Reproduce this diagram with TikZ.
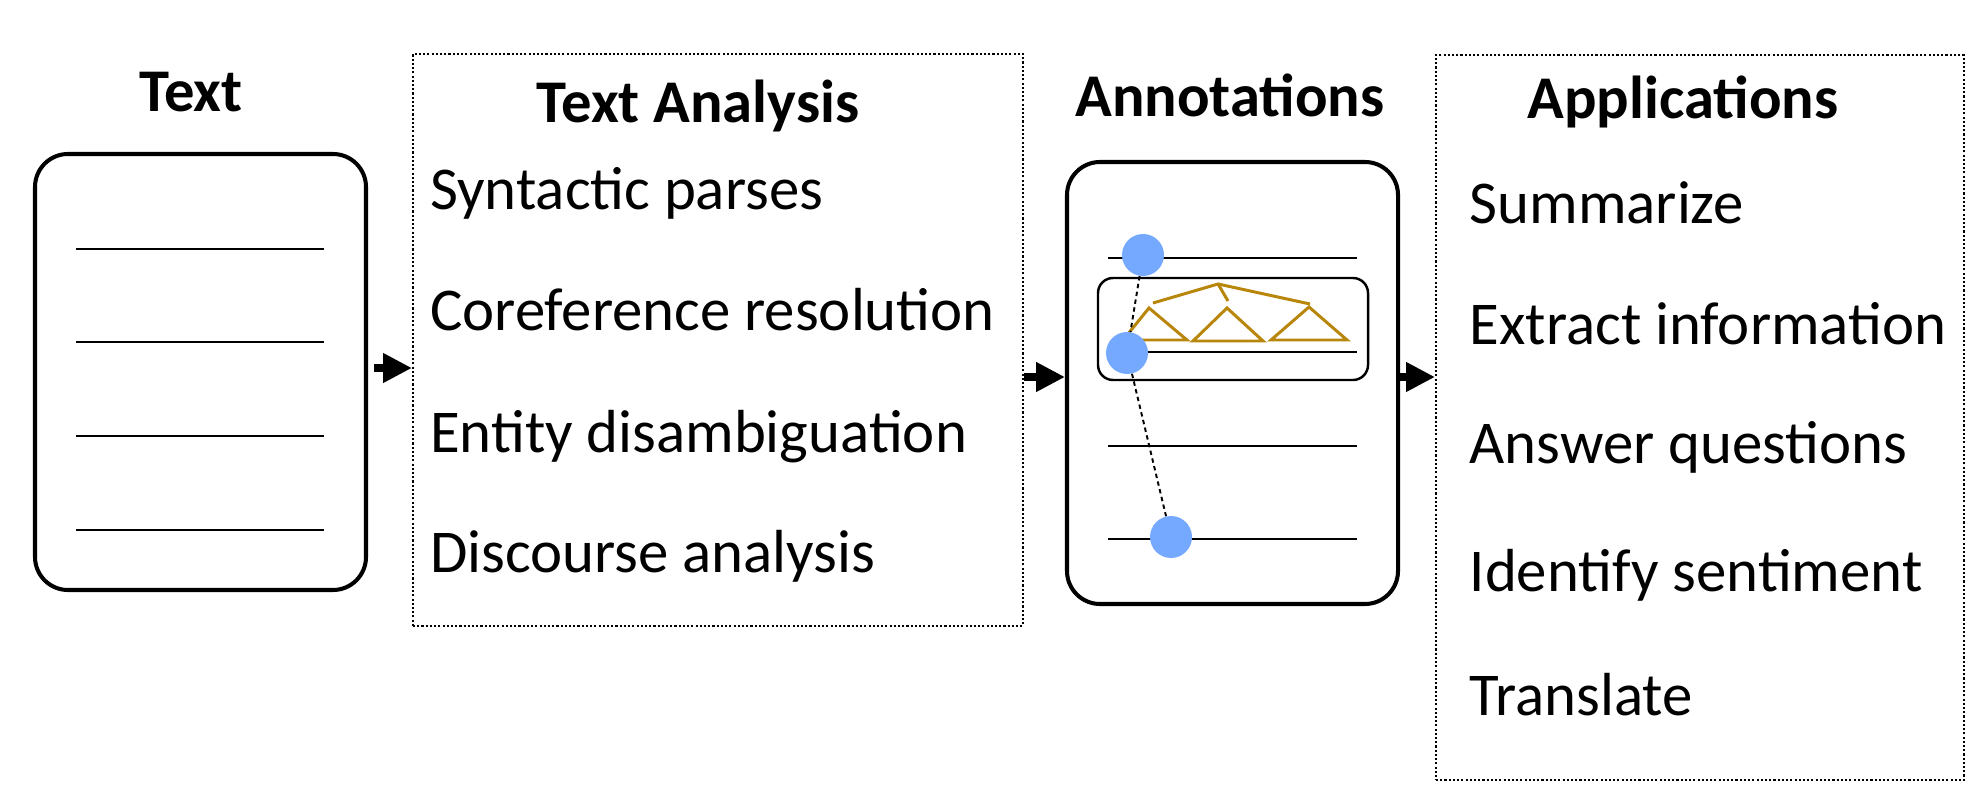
\documentclass[tikz,border=0pt]{standalone}
\usepackage{fontspec}
\setmainfont{Carlito}
\usetikzlibrary{arrows.meta,positioning}

\definecolor{mentionblue}{RGB}{117,168,255}
\definecolor{treegold}{RGB}{184,134,11}

\tikzset{
	panel/.style={draw,line width=2.3pt,rounded corners=0.66cm,minimum width=6.62cm},
	listbox/.style={draw,line width=1.2pt,dash pattern=on 1.2pt off 1.2pt},
	title/.style={anchor=base,font=\fontsize{34.5}{40}\selectfont\bfseries},
	item/.style={anchor=base west,font=\fontsize{34.6}{40}\selectfont},
	bigarrow/.style={line width=4pt,-{Triangle[length=16.4pt,width=15.9pt]}},
	rule/.style={line width=1.1pt},
	mention/.style={circle,fill=mentionblue,minimum size=0.84cm,inner sep=0pt},
	coref/.style={line width=1.1pt,dash pattern=on 2.5pt off 2pt},
	tree/.style={draw=treegold,line width=1.7pt,line join=miter}
}

\begin{document}
\begin{tikzpicture}
	\useasboundingbox (0,0) rectangle (39.44,15.84);

	% input text
	\node[panel,minimum height=8.72cm] (txt) at (4.01,8.40) {};
	\node[title] (txttitle) at (3.82,13.60) {Text};
	\foreach \y in {10.86,9.00,7.12,5.24}
	{
		\draw[rule] (1.52,\y) -- (6.48,\y);
	}

	% text analysis
	\node[listbox,minimum width=12.2cm,minimum height=11.44cm] (ana) at (14.36,9.04) {};
	\node[title] (anatitle) at (13.96,13.38) {Text Analysis};
	\foreach[count=\i] \y/\t in {11.64/Syntactic parses,9.22/Coreference resolution,6.80/Entity disambiguation,4.40/Discourse analysis}
	{
		\node[item] (ana\i) at (8.48,\y) {\t};
	}

	% annotations
	\node[panel,minimum height=8.84cm] (ann) at (24.65,8.18) {};
	\node[title] (anntitle) at (24.6,13.50) {Annotations};
	\node[draw,line width=1.4pt,rounded corners=0.3cm,minimum width=5.4cm,minimum height=2.04cm] (sent) at (24.66,9.26) {};
	\foreach \y in {10.68,8.80,6.92,5.06}
	{
		\draw[rule] (22.16,\y) -- (27.14,\y);
	}
	\draw[tree] (22.46,9.04) -- (22.98,9.68) -- (23.74,9.04) -- cycle;
	\draw[tree] (23.86,9.02) -- (24.54,9.68) -- (25.26,9.02) -- cycle;
	\draw[tree] (25.42,9.04) -- (26.18,9.70) -- (26.94,9.04) -- cycle;
	\draw[tree] (23.06,9.78) -- (24.36,10.16) -- (26.20,9.76);
	\draw[tree] (24.36,10.16) -- (24.56,9.82);
	\node[mention] (m1) at (22.86,10.74) {};
	\node[mention] (m2) at (22.54,8.78) {};
	\node[mention] (m3) at (23.42,5.10) {};
	\draw[coref] (m1) -- (m2);
	\draw[coref] (m2) -- (m3);

	% applications
	\node[listbox,minimum width=10.56cm,minimum height=14.5cm] (app) at (34.0,7.49) {};
	\node[title] (apptitle) at (33.66,13.46) {Applications};
	\foreach[count=\i] \y/\t in {11.37/Summarize,8.94/Extract information,6.58/Answer questions,4.02/Identify sentiment,1.54/Translate}
	{
		\node[item] (app\i) at (29.27,\y) {\t};
	}

	% arrows
	\coordinate (arrA) at ([yshift=0.08cm]txt.east);
	\coordinate (arrB) at ([yshift=0.12cm]ann.west);
	\coordinate (arrC) at ([yshift=0.12cm]ann.east);
	\draw[bigarrow,shorten <=0.12cm] (arrA) -- (arrA -| ana.west);
	\draw[bigarrow] (arrB -| ana.east) -- (arrB);
	\draw[bigarrow] (arrC) -- (arrC -| app.west);
\end{tikzpicture}
\end{document}
